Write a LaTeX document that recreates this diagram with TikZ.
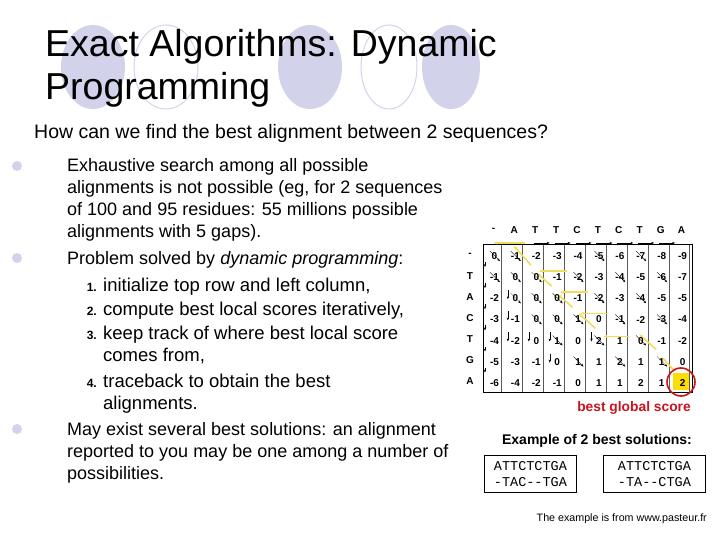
\documentclass[tikz,border=0pt]{standalone}
\usepackage{fontspec}
\setmainfont{Liberation Sans}
\newfontfamily\monofont{Liberation Mono}
\usetikzlibrary{arrows.meta}
\definecolor{lav}{RGB}{210,210,235}
\definecolor{bred}{RGB}{200,20,30}
\definecolor{trace}{RGB}{240,220,90}
\begin{document}
\begin{tikzpicture}[x=1pt,y=-1pt,
  txt/.style={anchor=base west,inner sep=0pt,font=\fontsize{18}{20}\selectfont},
  txtn/.style={anchor=base west,inner sep=0pt,font=\fontsize{18.5}{20}\selectfont},
  num/.style={anchor=base east,inner sep=0pt,font=\fontsize{12}{14}\selectfont\bfseries},
  bul/.style={fill=lav,draw=none},
  cell/.style={inner sep=0pt,font=\fontsize{10}{11}\selectfont\bfseries},
  hdr/.style={inner sep=0pt,font=\fontsize{10}{11}\selectfont\bfseries},
  sol/.style={draw,thick,inner sep=6pt,align=left,font=\monofont\fontsize{13.5}{16}\selectfont},
  ar/.style={-{Stealth[length=3pt]},line width=0.4pt},
  yar/.style={-{Stealth[length=4pt]},trace,line width=1.6pt}]
\useasboundingbox (0,0) rectangle (720,540);
\fill[lav] (93,67) ellipse [x radius=32,y radius=42];
\draw[lav,line width=1pt] (166,67) ellipse [x radius=32,y radius=42];
\fill[lav] (310,67) ellipse [x radius=32,y radius=42];
\draw[lav,line width=1pt] (389,67) ellipse [x radius=28,y radius=42];
\fill[lav] (451,67) ellipse [x radius=29,y radius=42];
\node[anchor=base west,inner sep=0pt,font=\fontsize{37.5}{40}\selectfont] (t1) at (45,57) {Exact Algorithms: Dynamic};
\node[anchor=base west,inner sep=0pt,font=\fontsize{37.5}{40}\selectfont] (t2) at (45,100) {Programming};
\node[anchor=base west,inner sep=0pt,font=\fontsize{19.5}{20}\selectfont] (q) at (34,139) {How can we find the best alignment between 2 sequences?};
\fill[bul] (17,166) circle (5);
\fill[bul] (17,258) circle (5);
\fill[bul] (17,429) circle (5);
\node[txt] (l1) at (67,172) {Exhaustive search among all possible};
\node[txt] (l2) at (67,194) {alignments is not possible (eg, for 2 sequences};
\node[txt] (l3) at (67,215) {of 100 and 95 residues: 55 millions possible};
\node[txt] (l4) at (67,237) {alignments with 5 gaps).};
\node[txt] (l5) at (67,264) {Problem solved by \emph{dynamic programming}:};
\node[num] (n1) at (97,291) {1.};
\node[txtn] (l6) at (103,291) {initialize top row and left column,};
\node[num] (n2) at (97,315) {2.};
\node[txtn] (l7) at (103,315) {compute best local scores iteratively,};
\node[num] (n3) at (97,339) {3.};
\node[txtn] (l8) at (103,339) {keep track of where best local score};
\node[txtn] (l9) at (103,361) {comes from,};
\node[num] (n4) at (97,387) {4.};
\node[txtn] (l10) at (103,387) {traceback to obtain the best};
\node[txtn] (l11) at (103,409) {alignments.};
\node[txt] (l12) at (67,435) {May exist several best solutions: an alignment};
\node[txt] (l13) at (67,457) {reported to you may be one among a number of};
\node[txt] (l14) at (67,479) {possibilities.};
\def\cw{20.9}\def\rh{21.1}
\fill[yellow!80!orange] (483+9*\cw+2,244+6*\rh+2) rectangle (692-2,392-2);
\draw[gray!70!black,line width=0.5pt] (483,244) grid[xstep=\cw,ystep=\rh] (692,392.6);
\draw[black,line width=0.6pt] (483,244) rectangle (692,392.6);
\foreach \c [count=\i from 0] in {-,A,T,T,C,T,C,T,G,A}
  \node[hdr] (h\i) at (483+\i*\cw+0.5*\cw,230) {\c};
\foreach \r [count=\j from 0] in {-,T,A,C,T,G,A}
  \node[hdr] (r\j) at (470,244+\j*\rh+0.5*\rh) {\r};
\draw[yar] (486+9*\cw,244+6*\rh) -- (483+8*\cw+12,244+5*\rh+8);
\draw[yar] (483+8*\cw+6,244+5*\rh) -- (483+7*\cw+10,244+4*\rh+6);
\draw[yar] (483+7*\cw,244+4*\rh+8) -- (483+5*\cw+16,244+4*\rh+8);
\draw[yar] (483+5*\cw+8,244+4*\rh) -- (483+4*\cw+12,244+3*\rh+6);
\draw[yar] (483+6*\cw,244+3*\rh+6) -- (483+4*\cw+14,244+3*\rh+6);
\draw[yar] (483+4*\cw+6,244+3*\rh) -- (483+3*\cw+12,244+2*\rh+8);
\draw[yar] (483+5*\cw,244+2*\rh+6) -- (483+3*\cw+14,244+2*\rh+6);
\draw[yar] (483+3*\cw+6,244+2*\rh) -- (483+2*\cw+12,244+1*\rh+8);
\draw[yar] (483+4*\cw,244+1*\rh+6) -- (483+2*\cw+14,244+1*\rh+6);
\draw[yar] (483+2*\cw+6,244+1*\rh) -- (483+1*\cw+10,244+2);
\draw[yar] (483+2*\cw,244-1) -- (483+0.5*\cw,244-1);
\foreach \i in {3,...,9}
  \draw[ar] (483+\i*\cw-12,244-1) -- (483+\i*\cw+4,244-1);
\foreach \j in {1,...,6}
  \draw[ar] (485,244+\j*\rh-3) -- (485,244+\j*\rh+2);
\foreach \i/\j in {1/1,2/2,3/3,4/4,2/1,3/2,4/3,5/4,6/5,7/6,5/2,6/3,7/4,8/5,9/6,6/1,7/2,8/3,9/4,8/1,9/2,1/2,2/3,3/4,4/5,5/6}
  \draw[ar,line width=0.3pt] (483+\i*\cw-14,244+\j*\rh-14) -- (483+\i*\cw-4,244+\j*\rh-4);
\foreach \i/\j in {1/3,1/4,1/5,2/5,3/5,3/6,5/5}
  \draw[ar] (483+\i*\cw+4,244+\j*\rh-\rh+4) -- (483+\i*\cw+4,244+\j*\rh-8);
\foreach \row [count=\j from 0] in {
 {0,-1,-2,-3,-4,-5,-6,-7,-8,-9},
 {-1,0,0,-1,-2,-3,-4,-5,-6,-7},
 {-2,0,0,0,-1,-2,-3,-4,-5,-5},
 {-3,-1,0,0,1,0,-1,-2,-3,-4},
 {-4,-2,0,1,0,2,1,0,-1,-2},
 {-5,-3,-1,0,1,1,2,1,1,0},
 {-6,-4,-2,-1,0,1,1,2,1,2}}{
  \foreach \v [count=\i from 0] in \row
    \node[cell] (c\i-\j) at (483+\i*\cw+0.55*\cw,244+\j*\rh+0.58*\rh) {\v};
}
\draw[bred,line width=1.6pt] (681,382) circle (14);
\node[inner sep=0pt,font=\fontsize{13.8}{14}\selectfont\bfseries,text=bred] (bgs) at (634,408) {best global score};
\node[inner sep=0pt,font=\fontsize{14}{14}\selectfont\bfseries] (ex) at (597,441) {Example of 2 best solutions:};
\node[sol,anchor=north west,minimum width=92pt] (s1) at (484,455) {ATTCTCTGA\\-TAC--TGA};
\node[sol,anchor=north west,minimum width=102pt] (s2) at (603,455) {ATTCTCTGA\\-TA--CTGA};
\node[anchor=base east,inner sep=0pt,font=\fontsize{10.7}{12}\selectfont] (src) at (707,521) {The example is from www.pasteur.fr};
\end{tikzpicture}
\end{document}
